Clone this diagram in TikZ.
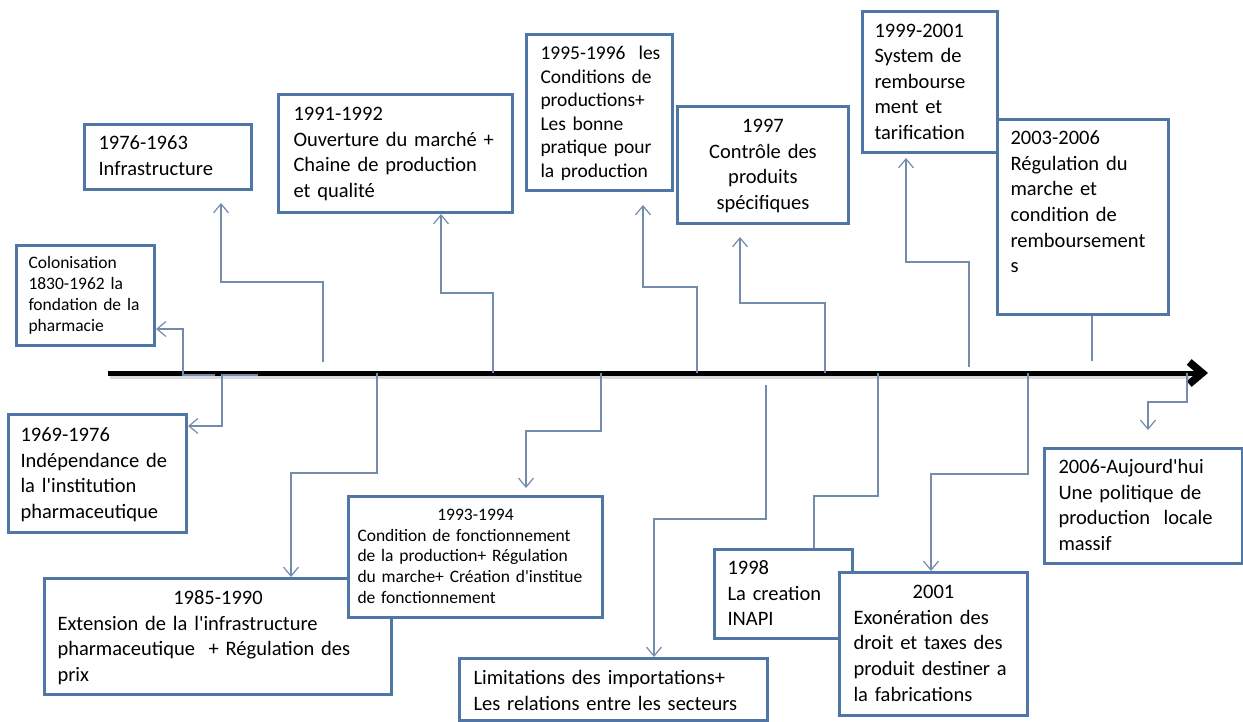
\documentclass[tikz,border=0pt]{standalone}
\usepackage{fontspec}
\setmainfont{Carlito}
\usetikzlibrary{arrows.meta}
\definecolor{boxblue}{RGB}{80,118,165}
\definecolor{linkblue}{RGB}{115,140,172}
\begin{document}
\begin{tikzpicture}[x=1pt,y=-1pt,
  box/.style={draw=boxblue, line width=3pt, fill=white, anchor=north west,
              inner ysep=0pt, align=left},
  big/.style={font=\fontsize{20.5}{25.7}\selectfont},
  small/.style={font=\fontsize{17.5}{21}\selectfont},
  link/.style={draw=linkblue, line width=1.2pt},
  arr/.style={link, -{Straight Barb[length=9pt,width=15pt]}},
  axis/.style={line width=5pt, -{Straight Barb[length=13pt,width=22pt,line width=7.5pt]}}
]
\useasboundingbox[fill=white] (0,0) rectangle (1243,722);

% time axis with a soft shadow
\coordinate (ax0) at (108,373);
\coordinate (ax1) at (1208,373);
\draw[line width=4pt, black!25, opacity=.6] (110,377) -- (1190,377);
\draw[axis] (ax0) -- (ax1);

% events above the axis
\node[box, small, inner xsep=12pt, text width=114pt, text height=23pt, text depth=77pt]
  (A) at (15,244) {Colonisation\\1830-1962 la\\fondation de la\\pharmacie};
\node[box, big, inner xsep=14pt, text width=139pt, text height=25pt, text depth=40pt]
  (B) at (83,123) {1976-1963\\Infrastructure};
\node[box, big, inner xsep=15pt, text width=204pt, text height=26pt, text depth=92pt]
  (C) at (277,93) {1991-1992\\Ouverture du march\'e +\\Chaine de production\\et qualit\'e};
\node[box, font=\fontsize{19.5}{23.6}\selectfont, inner xsep=14pt, text width=118pt,
      text height=25pt, text depth=131pt]
  (D) at (525,33) {\mbox{1995-1996~ les}\\Conditions de\\productions+\\Les bonne\\pratique pour\\la production};
\node[box, big, align=center, inner xsep=12pt, text width=147pt, text height=26pt, text depth=91pt]
  (E) at (676,105) {1997\\Contr\^ole des\\produits\\sp\'ecifiques};
\node[box, font=\fontsize{20.5}{25.5}\selectfont, inner xsep=12pt, text width=111pt,
      text height=26pt, text depth=115pt]
  (F) at (861,10) {1999-2001\\System de\\rembourse\\ment et\\tarification};
\node[box, big, inner xsep=13pt, text width=145pt, text height=25pt, text depth=170pt]
  (G) at (996,118) {2003-2006\\R\'egulation du\\marche et\\condition de\\remboursement\\s};

% events below the axis
\node[box, big, inner xsep=12pt, text width=154pt, text height=27pt, text depth=91pt]
  (H) at (7,413) {1969-1976\\Ind\'ependance de\\la l\textquotesingle institution\\pharmaceutique};
\node[box, big, inner xsep=13pt, text width=321pt, text height=26pt, text depth=90pt]
  (I) at (43,577) {\hbox to\hsize{\hfil 1985-1990\hfil}\\Extension de la l\textquotesingle infrastructure\\pharmaceutique~ + R\'egulation des\\prix};
\node[box, font=\fontsize{17.5}{20.7}\selectfont, inner xsep=9pt, text width=236pt,
      text height=24pt, text depth=97pt]
  (J) at (347,495) {\hbox to\hsize{\hfil 1993-1994\hfil}\\Condition de fonctionnement\\de la production+ R\'egulation\\du marche+ Cr\'eation d\textquotesingle institue\\de fonctionnement};
\node[box, big, inner xsep=14pt, text width=280pt, text height=26pt, text depth=36pt]
  (K) at (458,657) {Limitations des importations+\\Les relations entre les secteurs};
\node[box, big, inner xsep=13pt, text width=112pt, text height=25pt, text depth=64pt]
  (L) at (713,548) {1998\\La creation\\INAPI};
\node[box, big, inner xsep=14pt, text width=160pt, text height=26pt, text depth=117pt]
  (M) at (838,571) {\hbox to\hsize{\hfil 2001\hfil}\\Exon\'eration des\\droit et taxes des\\produit destiner a\\la fabrications};
\node[box, big, inner xsep=14pt, text width=170pt, text height=25pt, text depth=90pt]
  (N) at (1043,447) {2006-Aujourd\textquotesingle hui\\Une politique de\\production~ locale\\massif};

% connectors from the axis to the events
\coordinate (a1) at (215,375);  \coordinate (k1) at (183,329);
\draw[arr] (a1) -| (k1) -- (k1 -| A.east);

\coordinate (a2) at (323,362);  \coordinate (k2) at (221,282);  \coordinate (e2) at (221,203);
\draw[arr] (a2) |- (k2) -- (e2);

\coordinate (a3) at (493,373);  \coordinate (k3) at (441,293);
\draw[arr] (a3) |- (k3) -- (k3 |- C.south);

\coordinate (a4) at (697,373);  \coordinate (k4) at (643,287);  \coordinate (e4) at (643,205);
\draw[arr] (a4) |- (k4) -- (e4);

\coordinate (a5) at (825,373);  \coordinate (k5) at (740,303);  \coordinate (e5) at (740,237);
\draw[arr] (a5) |- (k5) -- (e5);

\coordinate (a6) at (969,367);  \coordinate (k6) at (906,262);  \coordinate (e6) at (906,158);
\draw[arr] (a6) |- (k6) -- (e6);

\coordinate (a7) at (1092,361);
\draw[link] (a7) -- (a7 |- G.south);

\coordinate (a8) at (258,375);  \coordinate (k8) at (222,426);
\draw[arr] (a8) -| (k8) -- (k8 -| H.east);

\coordinate (a9) at (377,373);  \coordinate (k9) at (291,473);
\draw[arr] (a9) |- (k9) -- (k9 |- I.north);

\coordinate (a10) at (601,373); \coordinate (k10) at (526,431); \coordinate (e10) at (526,488);
\draw[arr] (a10) |- (k10) -- (e10);

\coordinate (a11) at (766,385); \coordinate (k11) at (654,519);
\draw[arr] (a11) |- (k11) -- (k11 |- K.north);

\coordinate (a12) at (878,373); \coordinate (k12) at (814,496);
\draw[link] (a12) |- (k12) -- (k12 |- L.north);

\coordinate (a13) at (1028,373); \coordinate (k13) at (931,474);
\draw[arr] (a13) |- (k13) -- (k13 |- M.north);

\coordinate (a14) at (1187,373); \coordinate (k14) at (1148,402); \coordinate (e14) at (1148,430);
\draw[arr] (a14) |- (k14) -- (e14);
\end{tikzpicture}
\end{document}
